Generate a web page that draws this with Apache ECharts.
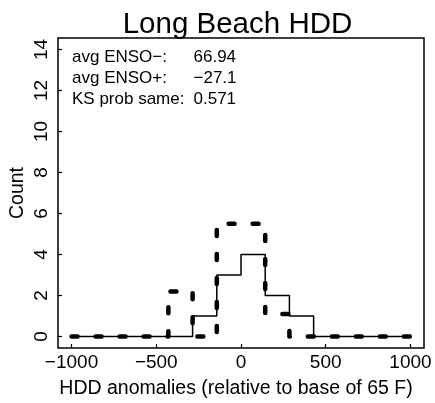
<!DOCTYPE html>
<html>
<head>
<meta charset="utf-8">
<script src="https://cdn.jsdelivr.net/npm/echarts@6/dist/echarts.min.js"></script>
<style>html,body{margin:0;padding:0;background:#fff}#c{width:435px;height:403px}</style>
</head>
<body>
<div id="c"></div>
<script>
// Histogram bin edges (HDD anomaly)
const binEdges = [-1000, -857.1, -714.3, -571.4, -428.6, -285.7, -142.9, 0, 142.9, 285.7, 428.6, 571.4, 714.3, 857.1, 1000];
// Counts per bin
const countEnsoMinus = [0, 0, 0, 0, 0, 1, 3, 4, 2, 1, 0, 0, 0, 0];      // solid line
const countEnsoPlus  = [0, 0, 0, 0, 2.2, 0, 5.5, 5.5, 1.1, 0, 0, 0, 0, 0]; // thick dashed line
const xTicks = [-1000, -500, 0, 500, 1000];
const yTicks = [0, 2, 4, 6, 8, 10, 12, 14];
const statLabels = ['avg ENSO\u2212:', 'avg ENSO+:', 'KS prob same:'];
const statValues = ['66.94', '\u221227.1', '0.571'];

function stepData(counts) {
  const d = counts.map((c, i) => [binEdges[i], c]);
  d.push([binEdges[binEdges.length - 1], counts[counts.length - 1]]);
  return d;
}

const FONT = 'Liberation Sans, Arial, Helvetica, sans-serif';
const chart = echarts.init(document.getElementById('c'), null, {renderer: 'canvas'});

const graphics = [
  {type: 'text', style: {text: 'Long Beach HDD', font: '29.5px ' + FONT, fill: '#000', textAlign: 'center', textVerticalAlign: 'middle'}, x: 237.5, y: 25},
  {type: 'text', style: {text: 'HDD anomalies (relative to base of 65 F)', font: '19.5px ' + FONT, fill: '#000', textAlign: 'center', textVerticalAlign: 'middle'}, x: 236, y: 389},
  {type: 'text', style: {text: 'Count', font: '19.5px ' + FONT, fill: '#000', textAlign: 'center', textVerticalAlign: 'middle'}, x: 18, y: 193, rotation: Math.PI / 2}
];
statLabels.forEach((t, i) => {
  graphics.push({type: 'text', style: {text: t, font: '17px ' + FONT, fill: '#000', textAlign: 'left', textVerticalAlign: 'middle'}, x: 72, y: 57 + i * 21});
  graphics.push({type: 'text', style: {text: statValues[i], font: '17px ' + FONT, fill: '#000', textAlign: 'left', textVerticalAlign: 'middle'}, x: 193.5, y: 57 + i * 21});
});

const minusFmt = v => String(v).replace('-', '\u2212');

chart.setOption({
  animation: false,
  backgroundColor: '#fff',
  grid: {left: 58, right: 11, top: 38, bottom: 55, show: true, borderColor: '#000', borderWidth: 1.5, backgroundColor: 'transparent'},
  xAxis: {
    type: 'value', min: -1080, max: 1080, position: 'bottom',
    axisLine: {show: false, onZero: false},
    splitLine: {show: false},
    axisTick: {show: true, inside: true, length: 4, lineStyle: {color: '#000', width: 1.2}, customValues: xTicks},
    axisLabel: {customValues: xTicks, margin: 5, color: '#000', fontSize: 19, fontFamily: FONT, formatter: minusFmt}
  },
  yAxis: {
    type: 'value', min: -0.56, max: 14.56, position: 'left',
    axisLine: {show: false, onZero: false},
    splitLine: {show: false},
    axisTick: {show: true, inside: true, length: 4, lineStyle: {color: '#000', width: 1.2}, customValues: yTicks},
    axisLabel: {customValues: yTicks, margin: 7, rotate: 90, color: '#000', fontSize: 19, fontFamily: FONT}
  },
  graphic: graphics,
  series: [
    {name: 'ENSO\u2212', type: 'line', step: 'end', symbol: 'none', data: stepData(countEnsoMinus),
     lineStyle: {color: '#000', width: 1.5}, z: 3},
    {name: 'ENSO+', type: 'line', step: 'end', symbol: 'none', data: stepData(countEnsoPlus),
     lineStyle: {color: '#000', width: 4.5, type: [6, 18], cap: 'round', join: 'round'}, z: 2}
  ]
});
</script>
</body>
</html>
